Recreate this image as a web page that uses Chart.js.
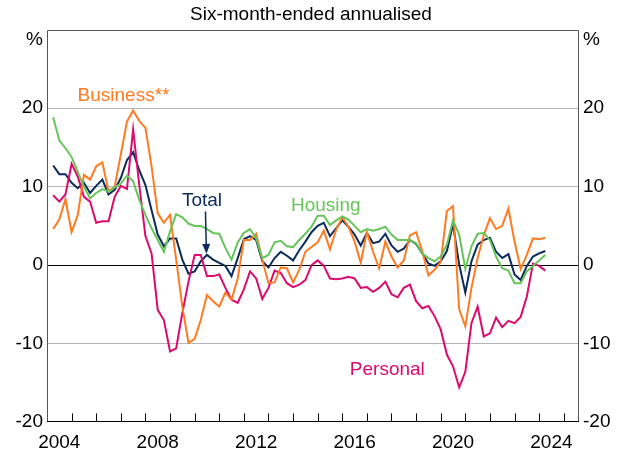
<!DOCTYPE html>
<html>
<head>
<meta charset="utf-8">
<script src="https://cdn.jsdelivr.net/npm/chart.js@4.4.0/dist/chart.umd.min.js"></script>
<style>
    body { margin: 0; background: #fff; }
</style>
</head>
<body>
<canvas id="CreditGraph" width="622" height="450"></canvas>
<script>
// quarterly observations, Mar 2004 to Mar 2024
let firstQuarter = 2004.25;
let lastQuarter = 2024.25;
let yearLabels = [2004, 2008, 2012, 2016, 2020, 2024];
let yTicks = [-20, -10, 0, 10, 20];

let housing = [18.85, 15.9, 14.9, 13.8, 11.9, 10.0, 8.5, 9.2, 9.7, 9.4,
    9.9, 10.4, 11.4, 10.7, 8.3, 6.4, 4.7, 3.2, 1.7, 4.3,
    6.5, 6.1, 5.3, 5.0, 5.0, 4.6, 4.1, 4.0, 2.2, 0.7,
    2.9, 4.1, 4.6, 3.4, 0.9, 1.3, 2.9, 3.1, 2.4, 2.3,
    3.2, 4.0, 4.9, 6.3, 6.3, 5.1, 5.7, 6.2, 5.8, 5.0,
    4.2, 4.6, 4.4, 4.6, 4.9, 3.9, 3.2, 3.2, 3.2, 2.8,
    1.5, 0.9, 0.5, 1.1, 2.6, 5.7, 3.9, -0.5, 2.4, 4.0,
    4.1, 3.2, 1.1, -0.4, -0.7, -2.3, -2.3, -0.8, -0.1, 0.6, 1.3];

let total = [12.7, 11.6, 11.6, 10.5, 9.8, 10.5, 9.2, 10.1, 10.9, 9.0,
    9.6, 11.1, 13.4, 14.4, 12.1, 10.2, 7.0, 3.9, 2.4, 3.4,
    3.4, 0.7, -1.1, -0.8, 0.5, 1.3, 0.7, 0.3, -0.1, -1.4,
    0.9, 3.3, 3.7, 3.2, 0.5, -0.3, 0.9, 1.7, 1.2, 0.6,
    1.9, 3.0, 4.2, 5.0, 5.4, 3.7, 4.7, 5.7, 4.9, 3.9,
    2.5, 4.1, 2.8, 3.0, 4.0, 2.5, 1.7, 2.1, 3.2, 2.7,
    1.5, 0.2, -0.1, 0.5, 1.8, 5.2, 0.1, -3.5, 0.5, 2.6,
    3.2, 3.5, 1.7, 0.9, 1.4, -1.2, -1.9, -0.1, 1.1, 1.5, 1.8];

let business = [4.6, 5.8, 8.4, 4.2, 6.4, 11.5, 10.9, 12.6, 13.1, 9.4,
    10.0, 14.1, 18.3, 19.7, 18.4, 17.5, 12.6, 6.6, 5.4, 6.4,
    0.7, -5.3, -9.9, -9.4, -7.0, -3.8, -4.6, -5.3, -3.5, -4.4,
    -1.7, 3.2, 3.2, 4.0, 0.7, -2.3, -2.2, -0.3, -0.4, -2.2,
    -0.6, 1.7, 2.3, 2.9, 4.4, 2.0, 4.5, 6.1, 4.9, 3.0,
    0.3, 4.2, 1.7, -0.4, 3.0, 1.1, -0.3, 0.6, 3.8, 4.2,
    1.8, -1.3, -0.6, 0.4, 6.9, 7.5, -5.6, -7.8, -2.9, 0.9,
    3.8, 6.0, 4.6, 5.0, 7.2, 3.0, -0.5, 1.3, 3.4, 3.3, 3.5];

let personal = [8.9, 8.1, 9.0, 12.9, 11.3, 8.7, 8.1, 5.4, 5.6, 5.6,
    8.7, 10.1, 9.7, 17.3, 10.2, 3.7, 1.5, -5.7, -7.0, -11.0,
    -10.6, -6.1, -2.1, 1.3, 1.3, -1.4, -1.4, -1.2, -2.9, -4.4,
    -4.8, -3.1, -0.8, -1.7, -4.3, -2.9, -0.7, -1.0, -2.3, -2.8,
    -2.5, -1.9, 0.0, 0.6, -0.1, -1.7, -1.8, -1.7, -1.5, -1.7,
    -2.9, -2.8, -3.4, -2.9, -2.1, -3.7, -4.1, -2.9, -2.5, -4.6,
    -5.5, -5.2, -6.5, -8.2, -11.4, -12.9, -15.6, -13.6, -7.4, -5.3,
    -9.1, -8.7, -6.7, -7.9, -7.1, -7.4, -6.6, -4.0, 0.2, -0.1, -0.7];

let housingColor = '#66C55A';
let totalColor = '#0B2B5C';
let businessColor = '#FF7A21';
let personalColor = '#DC0A6E';

let quarters = [];
for (let q = firstQuarter; q <= lastQuarter + 0.001; q += 0.25) {
    quarters.push(q);
}

function toPoints(values) {
    return values.map((v, i) => ({ x: quarters[i], y: v }));
}

let seriesLabels = [
    { text: 'Business**', x: 2007.11, y: 20.97, color: businessColor },
    { text: 'Total', x: 2010.30, y: 7.55, color: totalColor },
    { text: 'Housing', x: 2015.33, y: 6.96, color: housingColor },
    { text: 'Personal', x: 2017.83, y: -13.97, color: personalColor }
];
let totalArrow = { x1: 2010.44, y1: 6.83, x2: 2010.48, y2: 1.44 };

let frameAndLabels = {
    id: 'frameAndLabels',
    afterDraw: function (chart) {
        let ctx = chart.ctx;
        let area = chart.chartArea;
        let xs = chart.scales.x;
        let ys = chart.scales.y;
        ctx.save();

        ctx.strokeStyle = '#555';
        ctx.lineWidth = 1;
        ctx.beginPath();
        ctx.moveTo(Math.round(area.left) + 0.5, Math.round(area.bottom));
        ctx.lineTo(Math.round(area.left) + 0.5, Math.round(area.top) + 0.5);
        ctx.lineTo(Math.round(area.right) - 0.5, Math.round(area.top) + 0.5);
        ctx.lineTo(Math.round(area.right) - 0.5, Math.round(area.bottom));
        ctx.stroke();

        ctx.strokeStyle = '#000';
        ctx.beginPath();
        let by = Math.round(area.bottom) - 0.5;
        ctx.moveTo(area.left, by);
        ctx.lineTo(area.right, by);
        for (let yr = 2005; yr <= 2025; yr++) {
            let px = Math.round(xs.getPixelForValue(yr)) + 0.5;
            ctx.moveTo(px, by);
            ctx.lineTo(px, by - 8);
        }
        ctx.stroke();

        ctx.font = '19px "Liberation Sans", Arial, sans-serif';
        ctx.textAlign = 'center';
        ctx.textBaseline = 'alphabetic';
        seriesLabels.forEach(function (l) {
            ctx.fillStyle = l.color;
            ctx.fillText(l.text, xs.getPixelForValue(l.x), ys.getPixelForValue(l.y));
        });

        let ax1 = xs.getPixelForValue(totalArrow.x1);
        let ay1 = ys.getPixelForValue(totalArrow.y1);
        let ax2 = xs.getPixelForValue(totalArrow.x2);
        let ay2 = ys.getPixelForValue(totalArrow.y2);
        let ang = Math.atan2(ay2 - ay1, ax2 - ax1);
        ctx.strokeStyle = totalColor;
        ctx.fillStyle = totalColor;
        ctx.lineWidth = 1.5;
        ctx.beginPath();
        ctx.moveTo(ax1, ay1);
        ctx.lineTo(ax2 - 8 * Math.cos(ang), ay2 - 8 * Math.sin(ang));
        ctx.stroke();
        ctx.beginPath();
        ctx.moveTo(ax2, ay2);
        ctx.lineTo(ax2 - 10 * Math.cos(ang) + 4 * Math.sin(ang), ay2 - 10 * Math.sin(ang) - 4 * Math.cos(ang));
        ctx.lineTo(ax2 - 10 * Math.cos(ang) - 4 * Math.sin(ang), ay2 - 10 * Math.sin(ang) + 4 * Math.cos(ang));
        ctx.closePath();
        ctx.fill();

        ctx.restore();
    }
};

function yAxis(position, width, withGrid) {
    return {
        position: position,
        min: -20,
        max: 30,
        afterBuildTicks: function (axis) {
            axis.ticks = yTicks.concat([28.7]).map(v => ({ value: v }));
        },
        ticks: {
            padding: 4,
            callback: v => (v > 25 ? '%' : String(v))
        },
        grid: {
            display: withGrid,
            drawTicks: false,
            lineWidth: 1,
            color: function (c) {
                let v = c.tick.value;
                if (v === 0) return '#000';
                if (v === 10 || v === 20 || v === -10) return '#b5b5b5';
                return 'rgba(0,0,0,0)';
            }
        },
        border: { display: false },
        afterFit: function (s) { s.width = width; }
    };
}

Chart.defaults.font.family = '"Liberation Sans", Arial, sans-serif';
Chart.defaults.font.size = 19;
Chart.defaults.color = '#000';

let creditContext = document.getElementById('CreditGraph').getContext('2d');
let creditChart = new Chart(creditContext, {
    type: 'line',
    data: {
        datasets: [{
            label: 'Housing',
            data: toPoints(housing),
            borderColor: housingColor,
            borderWidth: 2
        },
        {
            label: 'Business**',
            data: toPoints(business),
            borderColor: businessColor,
            borderWidth: 2
        },
        {
            label: 'Personal',
            data: toPoints(personal),
            borderColor: personalColor,
            borderWidth: 2
        },
        {
            label: 'Total',
            data: toPoints(total),
            borderColor: totalColor,
            borderWidth: 2
        }]
    },
    options: {
        responsive: false,
        animation: false,
        devicePixelRatio: 1,
        layout: { padding: 0 },
        elements: {
            point: { radius: 0 },
            line: { tension: 0, fill: false }
        },
        plugins: {
            legend: { display: false },
            tooltip: { enabled: false },
            title: {
                display: true,
                text: 'Six-month-ended annualised',
                color: '#000',
                font: { size: 19, weight: 'normal' },
                padding: { top: 3, bottom: 4 }
            }
        },
        scales: {
            x: {
                type: 'linear',
                min: 2004,
                max: 2025.62,
                afterBuildTicks: function (axis) {
                    axis.ticks = yearLabels.map(y => ({ value: y + 0.5 }));
                },
                ticks: {
                    padding: 1,
                    maxRotation: 0,
                    autoSkip: false,
                    callback: v => String(Math.floor(v))
                },
                grid: { display: false },
                border: { display: false },
                afterFit: function (s) { s.height = 28; }
            },
            y: yAxis('left', 47, true),
            y2: yAxis('right', 43, false)
        }
    },
    plugins: [frameAndLabels]
});
</script>
</body>
</html>
